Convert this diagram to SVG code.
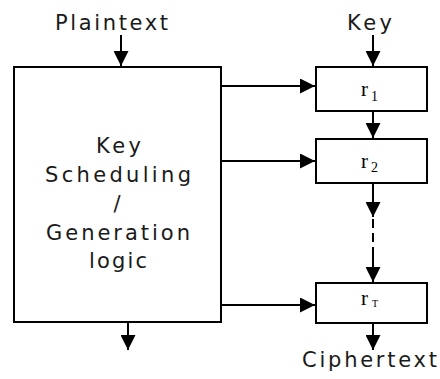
<svg xmlns="http://www.w3.org/2000/svg" width="440" height="379" viewBox="0 0 440 379">
  <style>
    .box { fill: #ffffff; stroke: #000000; stroke-width: 2; }
    .wire { fill: none; stroke: #000000; stroke-width: 2; }
    .dash { fill: none; stroke: #000000; stroke-width: 2; stroke-dasharray: 9 5; }
    .lbl { font-family: "DejaVu Sans", "Liberation Sans", sans-serif; font-size: 21px; fill: #1a1a1a; }
    .rnd { font-family: "Liberation Serif", "Times New Roman", serif; fill: #000000; }
  </style>
  <defs>
    <marker id="head" viewBox="0 0 15 15" refX="15" refY="7.5" markerWidth="15" markerHeight="15" markerUnits="userSpaceOnUse" orient="auto">
      <path d="M0,0 L15,7.5 L0,15 Z" fill="#000000"/>
    </marker>
  </defs>
  <rect width="440" height="379" fill="#ffffff"/>

  <!-- external labels -->
  <text class="lbl" x="55" y="30" textLength="113" lengthAdjust="spacing">Plaintext</text>
  <text class="lbl" x="347" y="30" textLength="45" lengthAdjust="spacing">Key</text>
  <text class="lbl" x="302" y="367" textLength="135" lengthAdjust="spacing">Ciphertext</text>

  <!-- key scheduling / generation block -->
  <g id="keygen">
    <rect class="box" x="14" y="67" width="207" height="255"/>
    <text class="lbl" x="96" y="153" textLength="45" lengthAdjust="spacing">Key</text>
    <text class="lbl" x="45" y="182" textLength="146" lengthAdjust="spacing">Scheduling</text>
    <text class="lbl" x="117" y="211" text-anchor="middle">/</text>
    <text class="lbl" x="46" y="240" textLength="144" lengthAdjust="spacing">Generation</text>
    <text class="lbl" x="89" y="268" textLength="58" lengthAdjust="spacing">logic</text>
  </g>

  <!-- round 1 -->
  <g id="round1">
    <rect class="box" x="316" y="67" width="111" height="44"/>
    <text class="rnd" x="361" y="96" font-size="21">r</text>
    <text class="rnd" x="371" y="100.5" font-size="14">1</text>
  </g>

  <!-- round 2 -->
  <g id="round2">
    <rect class="box" x="316" y="139" width="111" height="44"/>
    <text class="rnd" x="361" y="168" font-size="21">r</text>
    <text class="rnd" x="371" y="172" font-size="14">2</text>
  </g>

  <!-- round T -->
  <g id="roundT">
    <rect class="box" x="316" y="283" width="111" height="40"/>
    <text class="rnd" x="361" y="305" font-size="21">r</text>
    <text class="rnd" x="372" y="307" font-size="10">T</text>
  </g>

  <!-- connectors -->
  <g id="connectors">
    <line class="wire" x1="121" y1="35" x2="121" y2="66" marker-end="url(#head)"/>
    <line class="wire" x1="373" y1="35" x2="373" y2="66" marker-end="url(#head)"/>
    <line class="wire" x1="221" y1="86" x2="315" y2="86" marker-end="url(#head)"/>
    <line class="wire" x1="221" y1="161" x2="315" y2="161" marker-end="url(#head)"/>
    <line class="wire" x1="221" y1="305" x2="315" y2="305" marker-end="url(#head)"/>
    <line class="wire" x1="373" y1="111" x2="373" y2="138" marker-end="url(#head)"/>
    <line class="wire" x1="373" y1="183" x2="373" y2="217" marker-end="url(#head)"/>
    <line class="dash" x1="373" y1="219" x2="373" y2="256"/>
    <line class="wire" x1="373" y1="256" x2="373" y2="282" marker-end="url(#head)"/>
    <line class="wire" x1="128" y1="322" x2="128" y2="350" marker-end="url(#head)"/>
    <line class="wire" x1="373" y1="323" x2="373" y2="350" marker-end="url(#head)"/>
  </g>
</svg>
